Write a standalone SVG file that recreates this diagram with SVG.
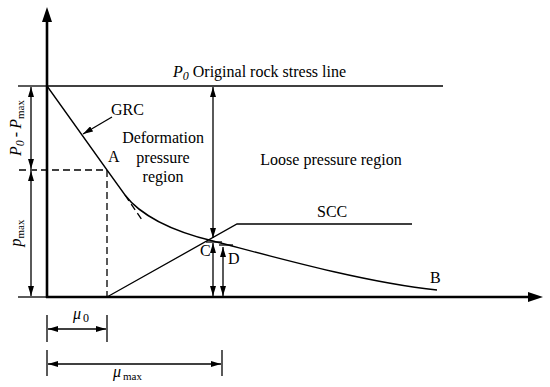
<svg xmlns="http://www.w3.org/2000/svg" width="550" height="387" viewBox="0 0 550 387">
<style>
text{font-family:"Liberation Serif","Times New Roman",serif;font-size:16px;fill:#000}
.ln{stroke:#000;stroke-width:1.3;fill:none}
.ax{stroke:#000;stroke-width:2.6;fill:none}
.ds{stroke:#000;stroke-width:1.3;fill:none;stroke-dasharray:7,4}
.dim{stroke:#000;stroke-width:1.3;fill:none;marker-start:url(#ah);marker-end:url(#ah)}
.one{stroke:#000;stroke-width:1.3;fill:none;marker-end:url(#ah)}
.it{font-style:italic}
</style>
<defs>
<marker id="ah" viewBox="0 0 10 6" refX="10" refY="3" markerWidth="10" markerHeight="6" markerUnits="userSpaceOnUse" orient="auto-start-reverse">
<path d="M0,0 L10,3 L0,6 Z" fill="#000"/>
</marker>
</defs>
<rect width="550" height="387" fill="#fff"/>
<g id="axes">
<line class="ax" x1="47" y1="298" x2="47" y2="20"/>
<polygon points="47,7 42,22 52,22" fill="#000"/>
<line class="ax" x1="46" y1="297" x2="530" y2="297"/>
<polygon points="543,297 528,292 528,302" fill="#000"/>
</g>
<g id="connectors">
<line class="ln" x1="47" y1="86" x2="443" y2="86"/>
<line class="ln" x1="18" y1="86" x2="47" y2="86"/>
<line class="ln" x1="18" y1="297" x2="47" y2="297"/>
<line class="ds" x1="19" y1="170" x2="107" y2="170"/>
<line class="ds" x1="107" y1="170" x2="107" y2="297"/>
<line class="dim" x1="31" y1="87" x2="31" y2="169"/>
<line class="dim" x1="31" y1="171" x2="31" y2="296"/>
<line class="ds" x1="125" y1="195" x2="142" y2="220"/>
<line class="dim" x1="213" y1="87" x2="213" y2="238"/>
<line class="dim" x1="213" y1="243" x2="213" y2="296"/>
<line class="dim" x1="223" y1="247" x2="223" y2="296"/>
<line class="ln" x1="206" y1="242" x2="222" y2="242"/>
<line class="ln" x1="219" y1="245" x2="233" y2="245"/>
<line class="one" x1="112" y1="117" x2="83" y2="134"/>
<line class="ln" x1="47" y1="315" x2="47" y2="342"/>
<line class="ln" x1="107" y1="315" x2="107" y2="342"/>
<line class="dim" x1="48" y1="329" x2="106" y2="329"/>
<line class="ln" x1="47" y1="350" x2="47" y2="376"/>
<line class="ln" x1="222" y1="350" x2="222" y2="376"/>
<line class="dim" x1="48" y1="364" x2="221" y2="364"/>
</g>
<g id="GRC">
<path class="ln" d="M47,86 L107,170 L125,195 C140,215 172,231 213,241 C260,253 360,282 437,290"/>
<text x="111" y="115">GRC</text>
</g>
<g id="SCC">
<path class="ln" d="M107,297 L237,224 L412,224"/>
<text x="317" y="217">SCC</text>
</g>
<g id="labels">
<text x="173" y="77"><tspan class="it">P</tspan><tspan class="it" font-size="12" dy="3">0</tspan><tspan dy="-3"> Original rock stress line</tspan></text>
<text x="108" y="162">A</text>
<text x="163" y="143" text-anchor="middle">Deformation</text>
<text x="163" y="163" text-anchor="middle">pressure</text>
<text x="163" y="182" text-anchor="middle">region</text>
<text x="331" y="165" text-anchor="middle">Loose pressure region</text>
<text x="430" y="283">B</text>
<text x="200" y="256">C</text>
<text x="228" y="264">D</text>
<text transform="translate(21,128) rotate(-90)" text-anchor="middle"><tspan class="it">P</tspan><tspan class="it" font-size="12" dy="3">0</tspan><tspan dx="3" dy="-3">-</tspan><tspan class="it" dx="3">P</tspan><tspan font-size="11" dy="3">max</tspan></text>
<text transform="translate(21,233) rotate(-90)" text-anchor="middle"><tspan class="it">p</tspan><tspan font-size="11" dy="3">max</tspan></text>
<text x="73" y="319" class="it">μ<tspan font-style="normal" font-size="12" dx="2" dy="3">0</tspan></text>
<text x="113" y="377" class="it">μ<tspan font-style="normal" font-size="11" dx="2" dy="3">max</tspan></text>
</g>
</svg>
